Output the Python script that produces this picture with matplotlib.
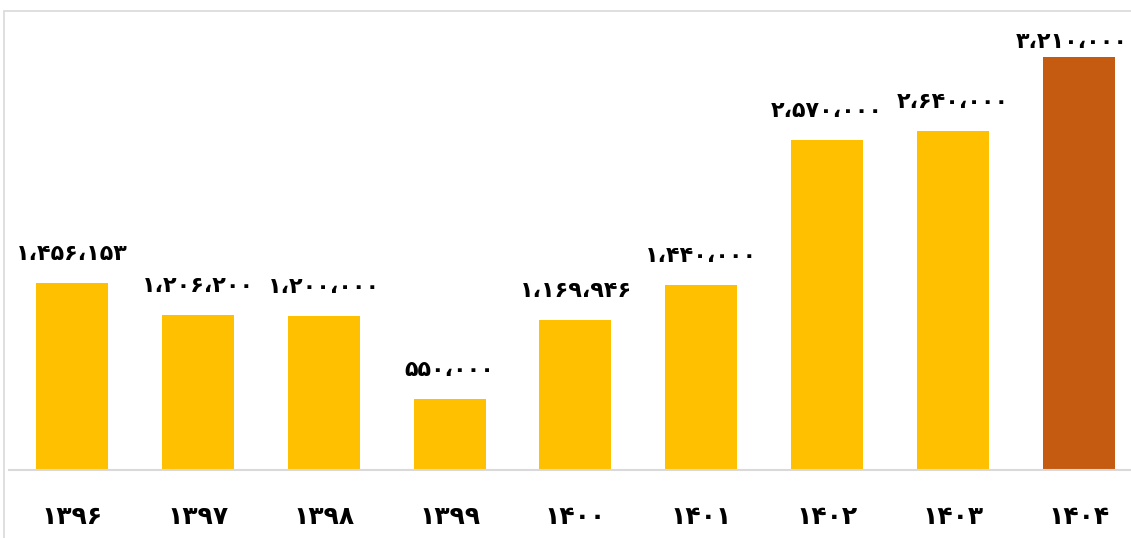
import matplotlib.pyplot as plt
from matplotlib.patches import Rectangle

years = ["۱۳۹۶", "۱۳۹۷", "۱۳۹۸", "۱۳۹۹", "۱۴۰۰", "۱۴۰۱", "۱۴۰۲", "۱۴۰۳", "۱۴۰۴"]
values = [1456153, 1206200, 1200000, 550000, 1169946, 1440000, 2570000, 2640000, 3210000]
labels = ["۱،۴۵۶،۱۵۳", "۱،۲۰۶،۲۰۰", "۱،۲۰۰،۰۰۰", "۵۵۰،۰۰۰", "۱،۱۶۹،۹۴۶",
          "۱،۴۴۰،۰۰۰", "۲،۵۷۰،۰۰۰", "۲،۶۴۰،۰۰۰", "۳،۲۱۰،۰۰۰"]

YELLOW = "#FFC000"
ORANGE = "#C55A11"
colors = [YELLOW] * (len(values) - 1) + [ORANGE]

plt.rcParams["font.family"] = ["DejaVu Sans"]

W, H = 1131, 538
fig = plt.figure(figsize=(W / 100, H / 100), dpi=100)

# outer chart frame (light gray), partly cut off at the right/bottom
fig.patches.append(Rectangle((4 / W, -0.1), 1.2, 1 - 11 / H + 0.1, transform=fig.transFigure,
                             fill=False, edgecolor="#D9D9D9", linewidth=1.2))

ax_left = 9 / W
ax_bottom = 1 - 470 / H
ax_top = 1 - 20 / H
ax = fig.add_axes([ax_left, ax_bottom, 1 - ax_left, ax_top - ax_bottom])

x = range(len(values))
ax.bar(x, values, width=0.572, color=colors)
ax.set_xlim(-0.5, 8.413)
ax.set_ylim(0, 3.5e6)

# labels sit ~14pt above the bar, but are pushed down/in if they'd leave the frame
px_per_unit = (470 - 20) / 3.5e6
for i, (v, lab) in enumerate(zip(values, labels)):
    bar_top_px = 470 - v * px_per_unit
    dy_px = min(19, bar_top_px - 52)
    dx = -5 if i == len(values) - 1 else 0
    ax.annotate(lab, (i, v), xytext=(dx, dy_px * 0.72), textcoords="offset points",
                ha="center", va="bottom", fontsize=16, fontweight="bold")

ax.set_xticks(list(x))
ax.set_xticklabels(years, fontsize=18, fontweight="bold")
ax.tick_params(axis="x", length=0, pad=25)
ax.set_yticks([])
for side in ["top", "right", "left"]:
    ax.spines[side].set_visible(False)
ax.spines["bottom"].set_color("#D9D9D9")
ax.spines["bottom"].set_linewidth(1.5)

fig.savefig("out.png", dpi=100)
